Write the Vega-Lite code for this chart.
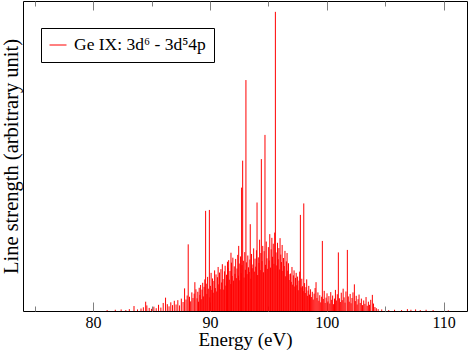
{
  "$schema": "https://vega.github.io/schema/vega-lite/v6.json",
  "width": 444,
  "height": 310,
  "autosize": {"type": "none"},
  "padding": {"left": 23, "top": 1, "right": 2, "bottom": 40},
  "background": "white",
  "config": {
    "font": "Liberation Serif",
    "view": {"stroke": "#000000", "strokeWidth": 1},
    "axis": {"labelFont": "Liberation Serif", "labelFontSize": 16, "labelColor": "#000000", "titleFont": "Liberation Serif", "titleFontWeight": "normal", "titleColor": "#000000", "grid": false, "domain": false},
    "legend": {"labelFont": "Liberation Serif", "labelFontSize": 17.5, "labelColor": "#000000"}
  },
  "data": {"values": [
    {"e":81.2,"s":0.3},{"e":81.9,"s":0.4},{"e":82.4,"s":0.5},{"e":82.8,"s":0.3},{"e":83.1,"s":0.6},{"e":83.5,"s":1.6},{"e":83.8,"s":0.5},{"e":84.1,"s":0.8},{"e":84.3,"s":1.2},{"e":84.5,"s":3.0},{"e":84.6,"s":1.8},{"e":84.8,"s":1.0},{"e":85.0,"s":0.7},{"e":85.2,"s":1.4},{"e":85.4,"s":0.9},{"e":85.6,"s":2.0},{"e":85.8,"s":1.1},{"e":86.0,"s":2.6},{"e":86.2,"s":4.3},{"e":86.35,"s":2.2},{"e":86.5,"s":1.5},{"e":86.65,"s":2.8},{"e":86.8,"s":1.9},{"e":86.95,"s":3.3},{"e":87.1,"s":2.1},{"e":87.25,"s":3.5},{"e":87.4,"s":1.8},{"e":87.55,"s":4.0},{"e":87.7,"s":2.9},{"e":87.83,"s":7.3},{"e":87.95,"s":3.7},{"e":88.05,"s":5.0},{"e":88.14,"s":21.5},{"e":88.25,"s":4.6},{"e":88.35,"s":3.1},{"e":88.45,"s":6.0},{"e":88.55,"s":4.2},{"e":88.65,"s":5.6},{"e":88.71,"s":9.3},{"e":88.8,"s":7.0},
    {"e":88.90,"s":4.1},{"e":88.96,"s":6.2},{"e":89.02,"s":3.0},{"e":89.08,"s":7.5},{"e":89.14,"s":5.2},{"e":89.20,"s":8.4},{"e":89.26,"s":3.8},{"e":89.32,"s":6.9},{"e":89.38,"s":9.1},{"e":89.44,"s":4.7},{"e":89.50,"s":7.8},{"e":89.56,"s":10.2},{"e":89.63,"s":32.3},{"e":89.68,"s":8.8},{"e":89.74,"s":5.5},{"e":89.80,"s":11.0},{"e":89.86,"s":7.2},{"e":89.95,"s":32.6},{"e":89.98,"s":4.4},{"e":90.04,"s":8.1},{"e":90.10,"s":12.3},{"e":90.16,"s":6.8},{"e":90.22,"s":10.5},{"e":90.28,"s":5.9},{"e":90.34,"s":9.7},{"e":90.40,"s":13.1},{"e":90.46,"s":7.4},{"e":90.52,"s":11.8},{"e":90.58,"s":6.3},{"e":90.64,"s":10.9},{"e":90.70,"s":14.2},{"e":90.76,"s":8.6},{"e":90.82,"s":12.4},{"e":90.88,"s":7.0},{"e":90.94,"s":13.5},{"e":91.00,"s":9.2},{"e":91.06,"s":15.1},{"e":91.12,"s":10.3},{"e":91.18,"s":6.9},{"e":91.24,"s":12.8},{"e":91.30,"s":14.6},{"e":91.36,"s":8.2},{"e":91.42,"s":11.7},{"e":91.48,"s":9.5},{"e":91.50,"s":15.9},{"e":91.54,"s":13.9},{"e":91.60,"s":16.4},{"e":91.66,"s":10.1},{"e":91.72,"s":12.9},{"e":91.78,"s":8.7},{"e":91.80,"s":18.8},{"e":91.84,"s":15.6},{"e":91.90,"s":11.3},{"e":91.96,"s":17.2},{"e":92.02,"s":9.8},{"e":92.08,"s":14.4},{"e":92.14,"s":12.0},{"e":92.20,"s":16.8},{"e":92.26,"s":10.6},{"e":92.32,"s":13.7},{"e":92.38,"s":18.1},{"e":92.44,"s":11.4},{"e":92.46,"s":21.0},{"e":92.50,"s":15.3},{"e":92.56,"s":9.9},{"e":92.62,"s":17.6},{"e":92.68,"s":12.2},{"e":92.71,"s":39.8},{"e":92.74,"s":14.8},{"e":92.80,"s":48.5},{"e":92.86,"s":16.2},{"e":92.92,"s":10.8},{"e":92.98,"s":19.0},{"e":93.04,"s":13.3},{"e":93.08,"s":74.5},{"e":93.12,"s":15.7},{"e":93.18,"s":11.9},{"e":93.24,"s":17.9},{"e":93.30,"s":14.1},{"e":93.36,"s":12.6},{"e":93.42,"s":16.6},{"e":93.45,"s":28.0},{"e":93.50,"s":10.4},{"e":93.56,"s":18.4},{"e":93.62,"s":13.8},{"e":93.68,"s":15.0},{"e":93.74,"s":20.2},{"e":93.80,"s":12.7},{"e":93.86,"s":16.9},{"e":93.92,"s":14.3},{"e":93.98,"s":19.6},{"e":94.03,"s":35.0},{"e":94.08,"s":11.6},{"e":94.14,"s":17.3},{"e":94.20,"s":15.5},{"e":94.25,"s":23.0},{"e":94.30,"s":13.2},{"e":94.36,"s":18.7},{"e":94.40,"s":49.0},{"e":94.46,"s":16.1},{"e":94.52,"s":21.0},{"e":94.58,"s":12.5},{"e":94.64,"s":19.3},{"e":94.71,"s":56.8},{"e":94.76,"s":14.9},{"e":94.82,"s":22.4},{"e":94.88,"s":17.0},{"e":94.94,"s":13.6},{"e":95.00,"s":20.6},{"e":95.06,"s":16.3},{"e":95.12,"s":24.8},{"e":95.18,"s":14.0},{"e":95.24,"s":19.9},{"e":95.30,"s":23.6},{"e":95.36,"s":17.5},{"e":95.42,"s":21.7},{"e":95.48,"s":15.2},{"e":95.54,"s":25.3},{"e":95.60,"s":96.5},{"e":95.66,"s":18.9},{"e":95.72,"s":14.7},{"e":95.78,"s":22.0},{"e":95.84,"s":16.7},{"e":95.90,"s":20.3},{"e":95.96,"s":13.4},{"e":96.00,"s":23.5},{"e":96.06,"s":18.2},{"e":96.12,"s":15.8},{"e":96.18,"s":21.3},{"e":96.24,"s":12.9},{"e":96.30,"s":17.1},{"e":96.36,"s":14.5},{"e":96.42,"s":19.4},{"e":96.48,"s":11.2},{"e":96.54,"s":16.0},{"e":96.60,"s":18.7},{"e":96.66,"s":13.0},{"e":96.72,"s":15.4},{"e":96.78,"s":10.0},{"e":96.85,"s":11.9},{"e":96.90,"s":12.1},{"e":96.96,"s":9.4},{"e":97.02,"s":14.2},{"e":97.08,"s":8.5},{"e":97.14,"s":11.5},{"e":97.20,"s":13.1},{"e":97.26,"s":7.9},{"e":97.32,"s":10.7},{"e":97.38,"s":12.3},{"e":97.44,"s":8.3},{"e":97.50,"s":11.1},{"e":97.56,"s":6.7},{"e":97.62,"s":9.8},{"e":97.68,"s":12.7},{"e":97.74,"s":31.0},{"e":97.80,"s":7.6},{"e":97.86,"s":10.4},{"e":97.92,"s":8.0},{"e":97.98,"s":6.4},{"e":98.03,"s":34.7},{"e":98.10,"s":9.0},{"e":98.16,"s":5.8},{"e":98.22,"s":7.7},{"e":98.28,"s":10.2},{"e":98.34,"s":4.9},{"e":98.40,"s":6.6},{"e":98.46,"s":8.1},{"e":98.52,"s":5.3},{"e":98.60,"s":7.0},{"e":98.68,"s":4.5},{"e":98.76,"s":6.2},{"e":98.84,"s":3.7},{"e":98.92,"s":5.6},{"e":99.00,"s":7.4},{"e":99.08,"s":9.3},{"e":99.16,"s":4.2},{"e":99.24,"s":6.0},{"e":99.32,"s":3.3},{"e":99.40,"s":5.1},{"e":99.48,"s":2.8},{"e":99.56,"s":4.6},{"e":99.62,"s":22.6},{"e":99.70,"s":3.9},{"e":99.78,"s":6.5},{"e":99.86,"s":2.6},{"e":99.94,"s":4.3},{"e":100.02,"s":5.7},{"e":100.10,"s":3.1},{"e":100.18,"s":4.8},{"e":100.26,"s":2.4},{"e":100.34,"s":6.1},{"e":100.42,"s":3.6},{"e":100.50,"s":5.0},{"e":100.58,"s":2.2},{"e":100.66,"s":4.0},{"e":100.74,"s":6.8},{"e":100.82,"s":3.4},{"e":100.90,"s":5.4},{"e":100.99,"s":18.9},{"e":101.08,"s":4.1},{"e":101.16,"s":2.9},{"e":101.24,"s":5.9},{"e":101.32,"s":3.5},{"e":101.40,"s":7.2},{"e":101.48,"s":4.4},{"e":101.56,"s":2.7},{"e":101.64,"s":6.3},{"e":101.76,"s":19.7},{"e":101.84,"s":4.7},{"e":101.92,"s":3.0},{"e":102.00,"s":5.5},{"e":102.08,"s":2.5},{"e":102.16,"s":4.2},{"e":102.24,"s":6.0},{"e":102.36,"s":8.6},{"e":102.44,"s":3.2},{"e":102.52,"s":4.9},{"e":102.60,"s":2.1},{"e":102.68,"s":3.8},{"e":102.76,"s":5.3},{"e":102.86,"s":2.6},{"e":102.96,"s":4.0},{"e":103.06,"s":1.9},{"e":103.16,"s":3.4},{"e":103.26,"s":2.3},{"e":103.36,"s":4.5},{"e":103.46,"s":1.7},{"e":103.56,"s":3.0},{"e":103.66,"s":2.0},{"e":103.76,"s":3.6},{"e":103.90,"s":5.2},{"e":104.00,"s":2.4},{"e":104.12,"s":1.3},{"e":104.24,"s":0.9},{"e":104.40,"s":0.6},
    {"e":104.7,"s":0.5},{"e":105.3,"s":0.3},{"e":105.8,"s":0.4},{"e":106.4,"s":0.3},{"e":106.9,"s":0.6},{"e":107.2,"s":0.4},{"e":107.6,"s":0.5},{"e":108.0,"s":0.3},{"e":108.5,"s":0.4},{"e":109.1,"s":0.3},{"e":110.4,"s":0.2}
  ]},
  "layer": [
    {
      "mark": {"type": "rule", "strokeWidth": 1},
      "encoding": {
        "x": {"field": "e", "type": "quantitative", "scale": {"domain": [74, 112], "nice": false, "zero": false},
          "axis": {"orient": "bottom", "values": [75,80,85,90,95,100,105,110], "labelExpr": "datum.value % 10 === 0 ? datum.label : ''",
            "tickColor": "#808080", "tickSize": {"condition": {"test": "datum.value % 10 === 0", "value": -9}, "value": -5},
            "labelPadding": 12, "title": "Energy (eV)", "titleFontSize": 19, "titlePadding": 0}},
        "y": {"field": "s", "type": "quantitative", "scale": {"domain": [0, 100], "nice": false},
          "axis": {"ticks": false, "labels": false, "title": "Line strength (arbitrary unit)", "titleFontSize": 20.5, "titlePadding": 2}},
        "y2": {"datum": 0},
        "color": {"datum": "Ge IX: 3d⁶ - 3d⁵4p", "type": "nominal", "scale": {"range": ["#ff0000"]},
          "legend": {"title": null, "orient": "none", "legendX": 18, "legendY": 27, "strokeColor": "#000000", "fillColor": "#ffffff", "padding": 8, "symbolType": "stroke", "symbolSize": 289, "symbolStrokeWidth": 1, "labelOffset": 7, "cornerRadius": 0}}
      }
    },
    {
      "mark": {"type": "rule", "strokeWidth": 1, "opacity": 0},
      "encoding": {
        "x": {"field": "e", "type": "quantitative",
          "axis": {"orient": "top", "values": [75,80,85,90,95,100,105,110], "labels": false, "title": null,
            "tickColor": "#808080", "tickSize": {"condition": {"test": "datum.value % 10 === 0", "value": -9}, "value": -5}}}
      }
    }
  ],
  "resolve": {"axis": {"x": "independent"}}
}
